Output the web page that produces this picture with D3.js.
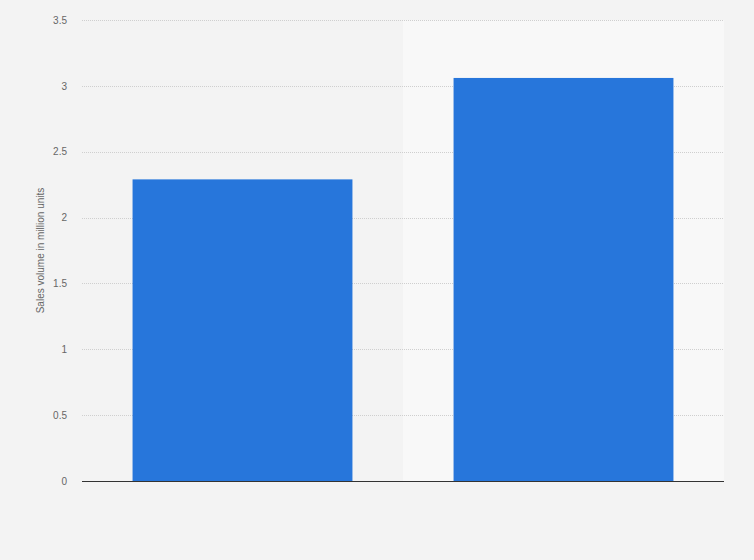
<!DOCTYPE html>
<html>
<head>
<meta charset="utf-8">
<script src="https://cdn.jsdelivr.net/npm/d3@7"></script>
<style>
  body { margin: 0; background: #f3f3f3; }
  svg { display: block; font-family: Arial, "Liberation Sans", sans-serif; }
</style>
</head>
<body>
<svg id="chart" width="754" height="560"></svg>
<script>
// data (no category labels shown)
const categories = ['A', 'B'];
const values = [2.29, 3.06];
const yTicks = [0, 0.5, 1, 1.5, 2, 2.5, 3, 3.5];
const yLabel = 'Sales volume in million units';

const svg = d3.select('#chart'),
  margin = { top: 20, right: 30, bottom: 79, left: 82 },
  width = +svg.attr('width') - margin.left - margin.right,
  height = +svg.attr('height') - margin.top - margin.bottom,
  g = svg.append('g').attr('transform', 'translate(' + margin.left + ',' + margin.top + ')');

svg.insert('rect', ':first-child')
  .attr('width', 754).attr('height', 560).attr('fill', '#f3f3f3');

const band = d3.scaleBand().domain(categories).range([0, width]);
const x = d3.scaleBand().domain(categories).range([0, width])
  .paddingInner(0.315).paddingOuter(0.1575);
const y = d3.scaleLinear().domain([0, 3.5]).range([height, 0]);

// alternating column shading
g.append('g')
  .selectAll('rect')
  .data(categories.filter((d, i) => i % 2 === 1))
  .enter()
  .append('rect')
  .attr('x', d => band(d))
  .attr('y', 0)
  .attr('width', band.bandwidth())
  .attr('height', height)
  .attr('fill', '#f8f8f8');

// grid lines
g.append('g')
  .selectAll('line')
  .data(yTicks.filter(d => d > 0))
  .enter()
  .append('line')
  .attr('x1', 0)
  .attr('x2', width)
  .attr('y1', d => Math.round(y(d)) + 0.5)
  .attr('y2', d => Math.round(y(d)) + 0.5)
  .attr('stroke', '#cfcfcf')
  .attr('stroke-width', 1)
  .attr('stroke-dasharray', '1,1');

// y axis labels
const yAxis = g.append('g')
  .call(d3.axisLeft(y).tickValues(yTicks).tickSize(0).tickPadding(15).tickFormat(d3.format('')));
yAxis.select('.domain').remove();
yAxis.selectAll('text')
  .attr('fill', '#666')
  .attr('font-size', 10)
  .attr('font-family', 'Arial, "Liberation Sans", sans-serif');

// bars
g.append('g')
  .selectAll('rect')
  .data(values)
  .enter()
  .append('rect')
  .attr('x', (d, i) => x(categories[i]))
  .attr('y', d => y(d))
  .attr('width', x.bandwidth())
  .attr('height', d => height - y(d))
  .attr('fill', '#2776db');

// baseline
g.append('line')
  .attr('x1', 0)
  .attr('x2', width)
  .attr('y1', height + 0.5)
  .attr('y2', height + 0.5)
  .attr('stroke', '#333')
  .attr('stroke-width', 1.2);

// y axis title
svg.append('text')
  .attr('transform', 'translate(44,' + (margin.top + height / 2) + ') rotate(-90)')
  .attr('text-anchor', 'middle')
  .attr('fill', '#666')
  .attr('font-size', 10)
  .text(yLabel);
</script>
</body>
</html>
